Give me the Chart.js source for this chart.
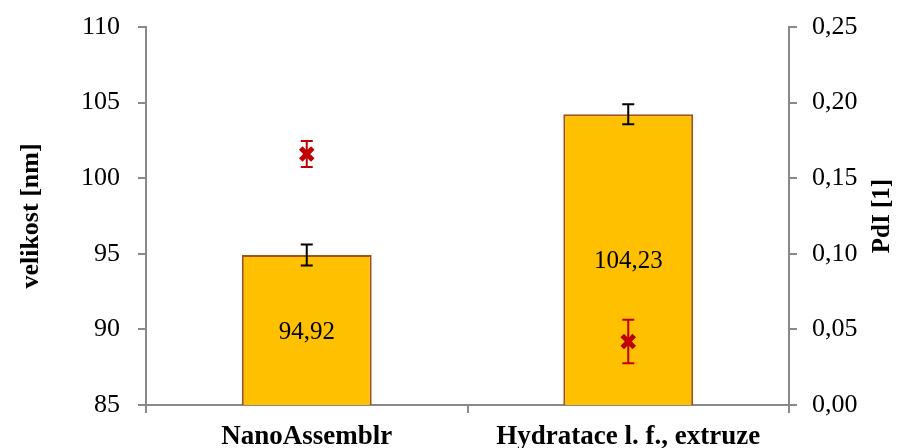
<!DOCTYPE html>
<html>
<head>
<meta charset="utf-8">
<script src="https://cdn.jsdelivr.net/npm/chart.js@4/dist/chart.umd.min.js"></script>
<style>
  html, body { margin: 0; padding: 0; background: #fff; }
  #wrap { width: 897px; height: 448px; }
</style>
</head>
<body>
<div id="wrap"><canvas id="chart" width="897" height="448"></canvas></div>
<script>
const categories = ['NanoAssemblr', 'Hydratace l. f., extruze'];
const sizeValues = [94.92, 104.23];
const sizeErrors = [0.69, 0.66];
const pdiValues = [0.166, 0.042];
const pdiErrors = [0.0086, 0.0144];

const serif = "'Liberation Serif', 'Times New Roman', serif";
const axisGrey = '#898989';
const comma = (v, d) => v.toFixed(d).replace('.', ',');

// error bars + value labels + right title (reads bottom-to-top like the left one)
const extras = {
  id: 'extras',
  afterDatasetsDraw(chart) {
    const ctx = chart.ctx;
    const x = chart.scales.x, y = chart.scales.y, y2 = chart.scales.y2;
    const drawErr = (cx, v, e, scale, color) => {
      const top = scale.getPixelForValue(v + e);
      const bot = scale.getPixelForValue(v - e);
      ctx.save();
      ctx.strokeStyle = color;
      ctx.lineWidth = 2;
      ctx.beginPath();
      ctx.moveTo(cx, top); ctx.lineTo(cx, bot);
      ctx.moveTo(cx - 6, top); ctx.lineTo(cx + 6, top);
      ctx.moveTo(cx - 6, bot); ctx.lineTo(cx + 6, bot);
      ctx.stroke();
      ctx.restore();
    };
    categories.forEach((c, i) => {
      const cx = x.getPixelForValue(i);
      drawErr(cx, sizeValues[i], sizeErrors[i], y, '#000');
      drawErr(cx, pdiValues[i], pdiErrors[i], y2, '#C00000');
      // value label in middle of bar
      const mid = (y.getPixelForValue(sizeValues[i]) + y.bottom) / 2;
      ctx.save();
      ctx.fillStyle = '#000';
      ctx.font = '25px ' + serif;
      ctx.textAlign = 'center';
      ctx.textBaseline = 'middle';
      ctx.fillText(comma(sizeValues[i], 2), cx, mid + 2);
      ctx.restore();
    });
    ctx.save();
    ctx.translate(883, (chart.chartArea.top + chart.chartArea.bottom) / 2);
    ctx.rotate(-Math.PI / 2);
    ctx.font = 'bold 25px ' + serif;
    ctx.fillStyle = '#000';
    ctx.textAlign = 'center';
    ctx.textBaseline = 'middle';
    ctx.fillText('PdI [1]', 0, 0);
    ctx.restore();
  }
};

const fitY = w => s => { s.width = w; s.paddingTop = 0; s.paddingBottom = 0; };

new Chart(document.getElementById('chart'), {
  data: {
    labels: categories,
    datasets: [
      {
        type: 'line',
        label: 'PdI',
        data: pdiValues,
        yAxisID: 'y2',
        showLine: false,
        pointStyle: 'crossRot',
        pointRadius: 8.5,
        pointBorderWidth: 5,
        borderColor: '#C00000',
        backgroundColor: '#C00000',
        order: 0
      },
      {
        type: 'bar',
        label: 'velikost',
        data: sizeValues,
        yAxisID: 'y',
        backgroundColor: '#FFC000',
        borderColor: '#A0521A',
        borderWidth: 2,
        borderSkipped: 'start',
        barPercentage: 0.404,
        categoryPercentage: 1,
        order: 1
      }
    ]
  },
  options: {
    responsive: false,
    animation: false,
    layout: { padding: { top: 27, left: 0, right: 0, bottom: 0 } },
    plugins: { legend: { display: false }, tooltip: { enabled: false } },
    scales: {
      x: {
        offset: true,
        grid: { display: true, drawOnChartArea: false, drawTicks: true, tickLength: 8, color: axisGrey, lineWidth: 2, offset: true },
        border: { display: true, color: axisGrey, width: 2 },
        ticks: { color: '#000', padding: 8, font: { family: serif, size: 27, weight: 'bold' } },
        afterFit(s) { s.height = 43; s.paddingLeft = 0; s.paddingRight = 0; }
      },
      y: {
        position: 'left',
        min: 85, max: 110,
        ticks: { stepSize: 5, color: '#000', padding: 18, font: { family: serif, size: 26 } },
        grid: { display: true, drawOnChartArea: false, drawTicks: true, tickLength: 8, color: axisGrey, lineWidth: 2 },
        border: { display: true, color: axisGrey, width: 2 },
        title: { display: true, text: 'velikost [nm]', color: '#000', padding: { top: 16, bottom: 0 }, font: { family: serif, size: 26, weight: 'bold' } },
        afterFit: fitY(146)
      },
      y2: {
        position: 'right',
        min: 0, max: 0.25,
        ticks: { stepSize: 0.05, color: '#000', padding: 15, font: { family: serif, size: 26 }, callback: v => comma(v, 2) },
        grid: { display: true, drawOnChartArea: false, drawTicks: true, tickLength: 8, color: axisGrey, lineWidth: 2 },
        border: { display: true, color: axisGrey, width: 2 },
        afterFit: fitY(108)
      }
    }
  },
  plugins: [extras]
});
</script>
</body>
</html>
